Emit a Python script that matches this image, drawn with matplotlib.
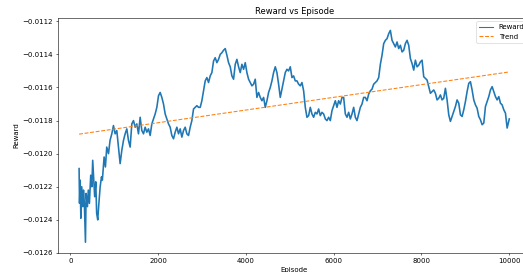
import matplotlib
matplotlib.use("Agg")
import matplotlib.pyplot as plt

# Early part, irregular episodes
early_episodes = [200, 210, 225, 240, 260, 285, 300, 320, 345, 360, 390, 410, 435, 465,
                  490, 510, 535, 555, 580, 600, 625, 645, 680, 710, 730, 770, 800, 830,
                  870, 905]
early_rewards = [-0.01209, -0.01230, -0.01216, -0.01239, -0.01220, -0.01232, -0.01222,
                 -0.01230, -0.012535, -0.01224, -0.01232, -0.01222, -0.01230, -0.01213,
                 -0.01220, -0.01204, -0.01216, -0.01226, -0.01217, -0.01236, -0.01240,
                 -0.01232, -0.01220, -0.01214, -0.01216, -0.01202, -0.01208, -0.01196,
                 -0.01200, -0.01192]

late_episodes = list(range(945, 9990, 38)) + [10000]
late_rewards_e4 = [
    -118.8, -118.3, -118.8, -118.6, -119.6, -120.6, -119.8, -119.2, -118.8, -118.5,
    -119.2, -119.6, -118.2, -118.0, -118.4, -118.2, -118.8, -117.8, -118.6, -118.8,
    -118.4, -118.7, -118.5, -118.9, -118.2, -117.9, -117.6, -117.2, -116.5, -116.3,
    -116.6, -117.0, -117.6, -117.9, -118.2, -118.4, -118.9, -119.1, -118.7, -118.4,
    -118.8, -118.5, -119.0, -118.6, -118.4, -118.8, -118.9, -118.4, -118.0, -117.3,
    -117.2, -117.1, -117.2, -117.2, -116.8, -116.2, -115.6, -115.4, -115.7, -115.3,
    -115.1, -114.4, -114.2, -114.5, -114.3, -114.0, -113.9, -113.75, -113.65, -114.05,
    -114.5, -114.75, -115.3, -115.5, -114.6, -114.3, -114.75, -115.1, -114.6, -114.9,
    -114.5, -115.1, -115.5, -115.7, -115.9, -115.8, -115.5, -116.6, -116.3, -116.6,
    -116.8, -116.6, -117.2, -116.8, -116.3, -116.0, -115.6, -115.1, -114.75, -115.1,
    -115.8, -116.6, -116.1, -115.6, -115.1, -114.9, -115.0, -114.75, -115.4, -115.3,
    -115.6, -115.6, -115.8, -115.9, -115.7, -116.2, -117.2, -117.8, -117.7, -117.2,
    -117.6, -117.8, -117.5, -117.6, -117.3, -117.7, -117.5, -117.6, -117.9, -118.0,
    -117.8, -118.0, -117.4, -117.1, -116.8, -117.2, -116.8, -117.0, -116.6, -116.6,
    -117.6, -117.8, -117.5, -117.9, -117.6, -117.2, -117.8, -118.0, -117.6, -117.2,
    -117.0, -116.6, -116.6, -116.8, -116.4, -116.2, -116.1, -115.8, -115.7, -115.6,
    -115.4, -114.6, -114.05, -113.35, -113.15, -113.05, -112.75, -112.55, -113.15, -113.35,
    -113.55, -113.25, -113.65, -113.45, -113.85, -113.75, -113.35, -113.15, -113.45, -114.25,
    -114.55, -114.95, -114.35, -114.75, -114.65, -114.45, -114.35, -115.35, -115.45, -115.55,
    -115.95, -116.35, -116.25, -116.15, -116.35, -116.75, -116.65, -116.45, -116.75, -116.65,
    -116.05, -116.75, -117.65, -118.05, -117.75, -117.45, -117.15, -116.75, -116.95, -117.65,
    -117.75, -117.35, -116.85, -116.25, -115.75, -115.65, -116.15, -116.75, -117.05, -117.25,
    -117.75, -117.95, -118.25, -118.15, -117.15, -116.85, -116.55, -116.15, -115.95, -116.25,
    -116.55, -116.75, -116.55, -116.95, -117.05, -117.35, -117.55, -118.45, -118.0, -117.9,
]

episodes = early_episodes + late_episodes
rewards = early_rewards + [v * 1e-4 for v in late_rewards_e4]

trend_episodes = [200, 10000]
trend_rewards = [-0.011882, -0.011506]

DPI = 50.5
fig = plt.figure(figsize=(523 / DPI, 272 / DPI), dpi=DPI)
ax = fig.add_axes([0.1101, 0.0699, 0.9048, 0.864])
ax.plot(episodes, rewards, color="#1f77b4", lw=2.3, label="Reward")
ax.plot(trend_episodes, trend_rewards, "--", color="#ff7f0e", lw=1.5, label="Trend")
ax.set_xlim(-290, 10490)
ax.set_ylim(-0.0126, -0.01118)
ax.set_title("Reward vs Episode")
ax.set_xlabel("Episode")
ax.set_ylabel("Reward")
leg = ax.legend(loc="upper right")
for line in leg.get_lines():
    line.set_linewidth(1.5)
fig.savefig("out.png", dpi=DPI)
